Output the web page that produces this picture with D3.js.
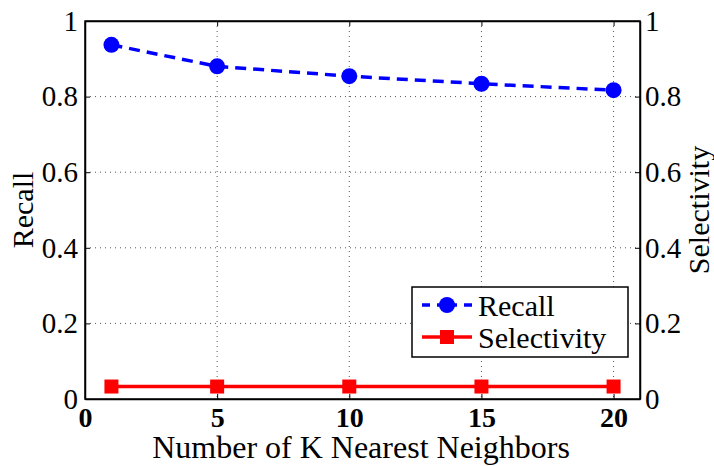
<!DOCTYPE html>
<html>
<head>
<meta charset="utf-8">
<script src="https://cdn.jsdelivr.net/npm/d3@7"></script>
<style>
  body { margin: 0; background: #fff; }
</style>
</head>
<body>
<script>
// valeurs
const kValues = [1, 5, 10, 15, 20];
const recall = [0.937, 0.880, 0.854, 0.834, 0.817];
const selectivity = [0.033, 0.033, 0.033, 0.033, 0.033];
const xTicks = [0, 5, 10, 15, 20];
const yTicks = [0, 0.2, 0.4, 0.6, 0.8, 1];
const seriesNames = ['Recall', 'Selectivity'];

const width = 714, height = 466;
const margin = { top: 21, right: 74, bottom: 67, left: 85 };
const innerW = width - margin.left - margin.right;
const innerH = height - margin.top - margin.bottom;

const svg = d3.select('body').append('svg')
    .attr('width', width)
    .attr('height', height);

const g = svg.append('g')
    .attr('transform', `translate(${margin.left},${margin.top})`);

const x = d3.scaleLinear().domain([0, 21]).range([0, innerW]);
const yL = d3.scaleLinear().domain([0, 1]).range([innerH, 0]);
const yR = d3.scaleLinear().domain([0, 1]).range([innerH, 0]);

// police serif pour les textes
function serif(sel, size) {
    sel.style('font-family', d => '"Times New Roman"')
        .style('font-size', size + 'px');
}

// grille pointillée
g.append('g')
    .selectAll('line')
    .data(xTicks.filter(d => d > 0))
    .join('line')
    .attr('x1', d => x(d)).attr('x2', d => x(d))
    .attr('y1', 0).attr('y2', innerH)
    .attr('stroke', '#555')
    .attr('stroke-width', 1)
    .attr('stroke-dasharray', '1,4');

g.append('g')
    .selectAll('line')
    .data(yTicks.filter(d => d > 0 && d < 1))
    .join('line')
    .attr('x1', 0).attr('x2', innerW)
    .attr('y1', d => yL(d)).attr('y2', d => yL(d))
    .attr('stroke', '#555')
    .attr('stroke-width', 1)
    .attr('stroke-dasharray', '1,4');

// axes avec ticks vers l'intérieur
const tickLen = 5;
const yFmt = d => d === 0 || d === 1 ? d3.format('d')(d) : d3.format('.1f')(d);

const xAxis = g.append('g')
    .attr('transform', `translate(0,${innerH})`)
    .call(d3.axisBottom(x).tickValues(xTicks).tickSizeInner(-tickLen).tickSizeOuter(0).tickPadding(8));
xAxis.selectAll('text')
    .attr('dy', '0.71em')
    .call(serif, 28)
    .style('font-weight', 'bold');

const xTop = g.append('g')
    .call(d3.axisTop(x).tickValues(xTicks).tickSizeInner(-tickLen).tickSizeOuter(0));
xTop.selectAll('text').remove();

const yAxisL = g.append('g')
    .call(d3.axisLeft(yL).tickValues(yTicks).tickSizeInner(-tickLen).tickSizeOuter(0).tickPadding(7).tickFormat(yFmt));
yAxisL.selectAll('text').call(serif, 29);

const yAxisR = g.append('g')
    .attr('transform', `translate(${innerW},0)`)
    .call(d3.axisRight(yR).tickValues(yTicks).tickSizeInner(-tickLen).tickSizeOuter(0).tickPadding(5).tickFormat(yFmt));
yAxisR.selectAll('text').call(serif, 29);

[xAxis, xTop, yAxisL, yAxisR].forEach(a => {
    a.select('.domain').attr('stroke', '#000').attr('stroke-width', 1.5);
    a.selectAll('.tick line').attr('stroke', '#000').attr('stroke-width', 1);
    a.selectAll('text').attr('fill', '#000');
});

// cadre
g.append('rect')
    .attr('width', innerW).attr('height', innerH)
    .attr('fill', 'none').attr('stroke', '#000').attr('stroke-width', 1.5);

// courbes
const recallLine = d3.line().x((d, i) => x(kValues[i])).y(d => yL(d));
const selLine = d3.line().x((d, i) => x(kValues[i])).y(d => yR(d));

g.append('path')
    .datum(recall)
    .attr('d', recallLine)
    .attr('fill', 'none')
    .attr('stroke', '#0000ff')
    .attr('stroke-width', 3.5)
    .attr('stroke-dasharray', '11,7');

g.selectAll('.pt-recall')
    .data(recall)
    .join('circle')
    .attr('class', 'pt-recall')
    .attr('cx', (d, i) => x(kValues[i]))
    .attr('cy', d => yL(d))
    .attr('r', 8)
    .attr('fill', '#0000ff');

g.append('path')
    .datum(selectivity)
    .attr('d', selLine)
    .attr('fill', 'none')
    .attr('stroke', '#ff0000')
    .attr('stroke-width', 3.5);

g.selectAll('.pt-sel')
    .data(selectivity)
    .join('rect')
    .attr('class', 'pt-sel')
    .attr('x', (d, i) => x(kValues[i]) - 7)
    .attr('y', d => yR(d) - 7)
    .attr('width', 14)
    .attr('height', 14)
    .attr('fill', '#ff0000');

// titres des axes
svg.append('text')
    .attr('x', 361)
    .attr('y', 458)
    .attr('text-anchor', 'middle')
    .call(serif, 32)
    .text('Number of K Nearest Neighbors');

svg.append('text')
    .attr('transform', `translate(33,${margin.top + innerH / 2}) rotate(-90)`)
    .attr('text-anchor', 'middle')
    .call(serif, 30)
    .text('Recall');

svg.append('text')
    .attr('transform', `translate(709,${margin.top + innerH / 2}) rotate(-90)`)
    .attr('text-anchor', 'middle')
    .call(serif, 30)
    .text('Selectivity');

// légende
const legend = svg.append('g').attr('transform', 'translate(412,287)');
legend.append('rect')
    .attr('width', 216).attr('height', 70)
    .attr('fill', '#fff').attr('stroke', '#000').attr('stroke-width', 1.5);

const legItems = legend.selectAll('.leg')
    .data(seriesNames)
    .join('g')
    .attr('class', 'leg')
    .attr('transform', (d, i) => `translate(0,${18 + i * 32})`);

legItems.append('line')
    .attr('x1', 10).attr('x2', 60)
    .attr('y1', 0).attr('y2', 0)
    .attr('stroke', (d, i) => i === 0 ? '#0000ff' : '#ff0000')
    .attr('stroke-width', 3.5)
    .attr('stroke-dasharray', (d, i) => i === 0 ? '8,7,20,7' : null);

legItems.each(function(d, i) {
    const sel = d3.select(this);
    if (i === 0) {
        sel.append('circle').attr('cx', 35).attr('cy', 0).attr('r', 8).attr('fill', '#0000ff');
    } else {
        sel.append('rect').attr('x', 28).attr('y', -7).attr('width', 14).attr('height', 14).attr('fill', '#ff0000');
    }
});

legItems.append('text')
    .attr('x', 66)
    .attr('y', 0)
    .attr('dy', '0.35em')
    .call(serif, 30)
    .text(d => d);
</script>
</body>
</html>
